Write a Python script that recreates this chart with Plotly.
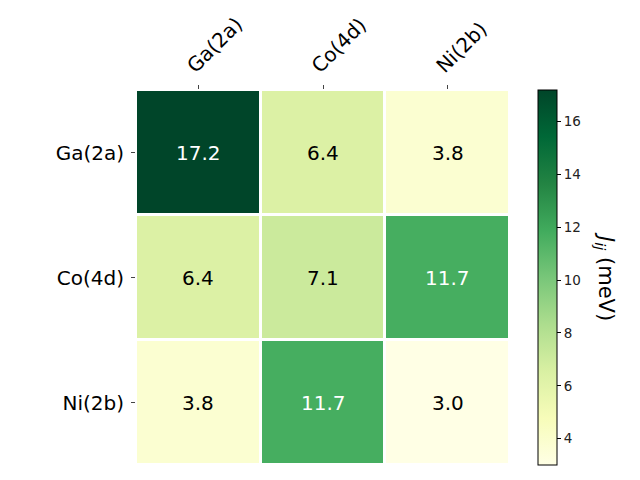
import plotly.graph_objects as go

labels = ["Ga(2a)", "Co(4d)", "Ni(2b)"]
values = [[17.2, 6.4, 3.8],
          [6.4, 7.1, 11.7],
          [3.8, 11.7, 3.0]]
zmin, zmax = 3.0, 17.2
cb_ticks = [4, 6, 8, 10, 12, 14, 16]

L, R, T, B = 136, 130, 90, 15
W, H = 640, 480
pw, ph = W - L - R, H - T - B

fig = go.Figure(go.Heatmap(
    z=values, x=labels, y=labels,
    colorscale="YlGn", zmin=zmin, zmax=zmax,
    xgap=3, ygap=3,
    colorbar=dict(
        x=(538 - L) / pw, xanchor="left", xref="paper", thickness=19,
        len=1, lenmode="fraction", y=0, yanchor="bottom", yref="paper",
        xpad=0, ypad=0,
        outlinecolor="black", outlinewidth=1,
        tickvals=cb_ticks, ticks="outside", ticklen=4, tickcolor="black",
        tickfont=dict(size=13.5, color="#222"),
    ),
    hoverinfo="skip",
))

thr = (zmin + zmax) / 2
for i, row in enumerate(values):
    for j, v in enumerate(row):
        fig.add_annotation(x=labels[j], y=labels[i], text=f"{v:.1f}", showarrow=False,
                           font=dict(size=20, color="white" if v > thr else "black"))

fig.add_annotation(xref="paper", yref="paper", x=(620 - L) / pw, y=(H - B - 276) / ph,
                   text="<i>J</i><sub><i>ij</i></sub> (meV)", textangle=90, showarrow=False,
                   font=dict(size=21, color="black"))

fig.update_layout(
    width=W, height=H,
    margin=dict(l=L, r=R, t=T, b=B, autoexpand=False),
    paper_bgcolor="white", plot_bgcolor="white",
    font=dict(family="DejaVu Sans", color="black"),
    xaxis=dict(side="top", tickangle=-45, automargin=False, ticklabelshift=-10,
               ticks="outside", ticklen=4, tickfont=dict(size=20), showgrid=False, zeroline=False),
    yaxis=dict(autorange="reversed", automargin=False, ticklabelstandoff=3,
               ticks="outside", ticklen=4, tickfont=dict(size=20), showgrid=False, zeroline=False),
)
fig.write_html("out.html", config={"displayModeBar": False},
               post_script="document.body.style.margin='0';document.body.style.overflow='hidden';")
